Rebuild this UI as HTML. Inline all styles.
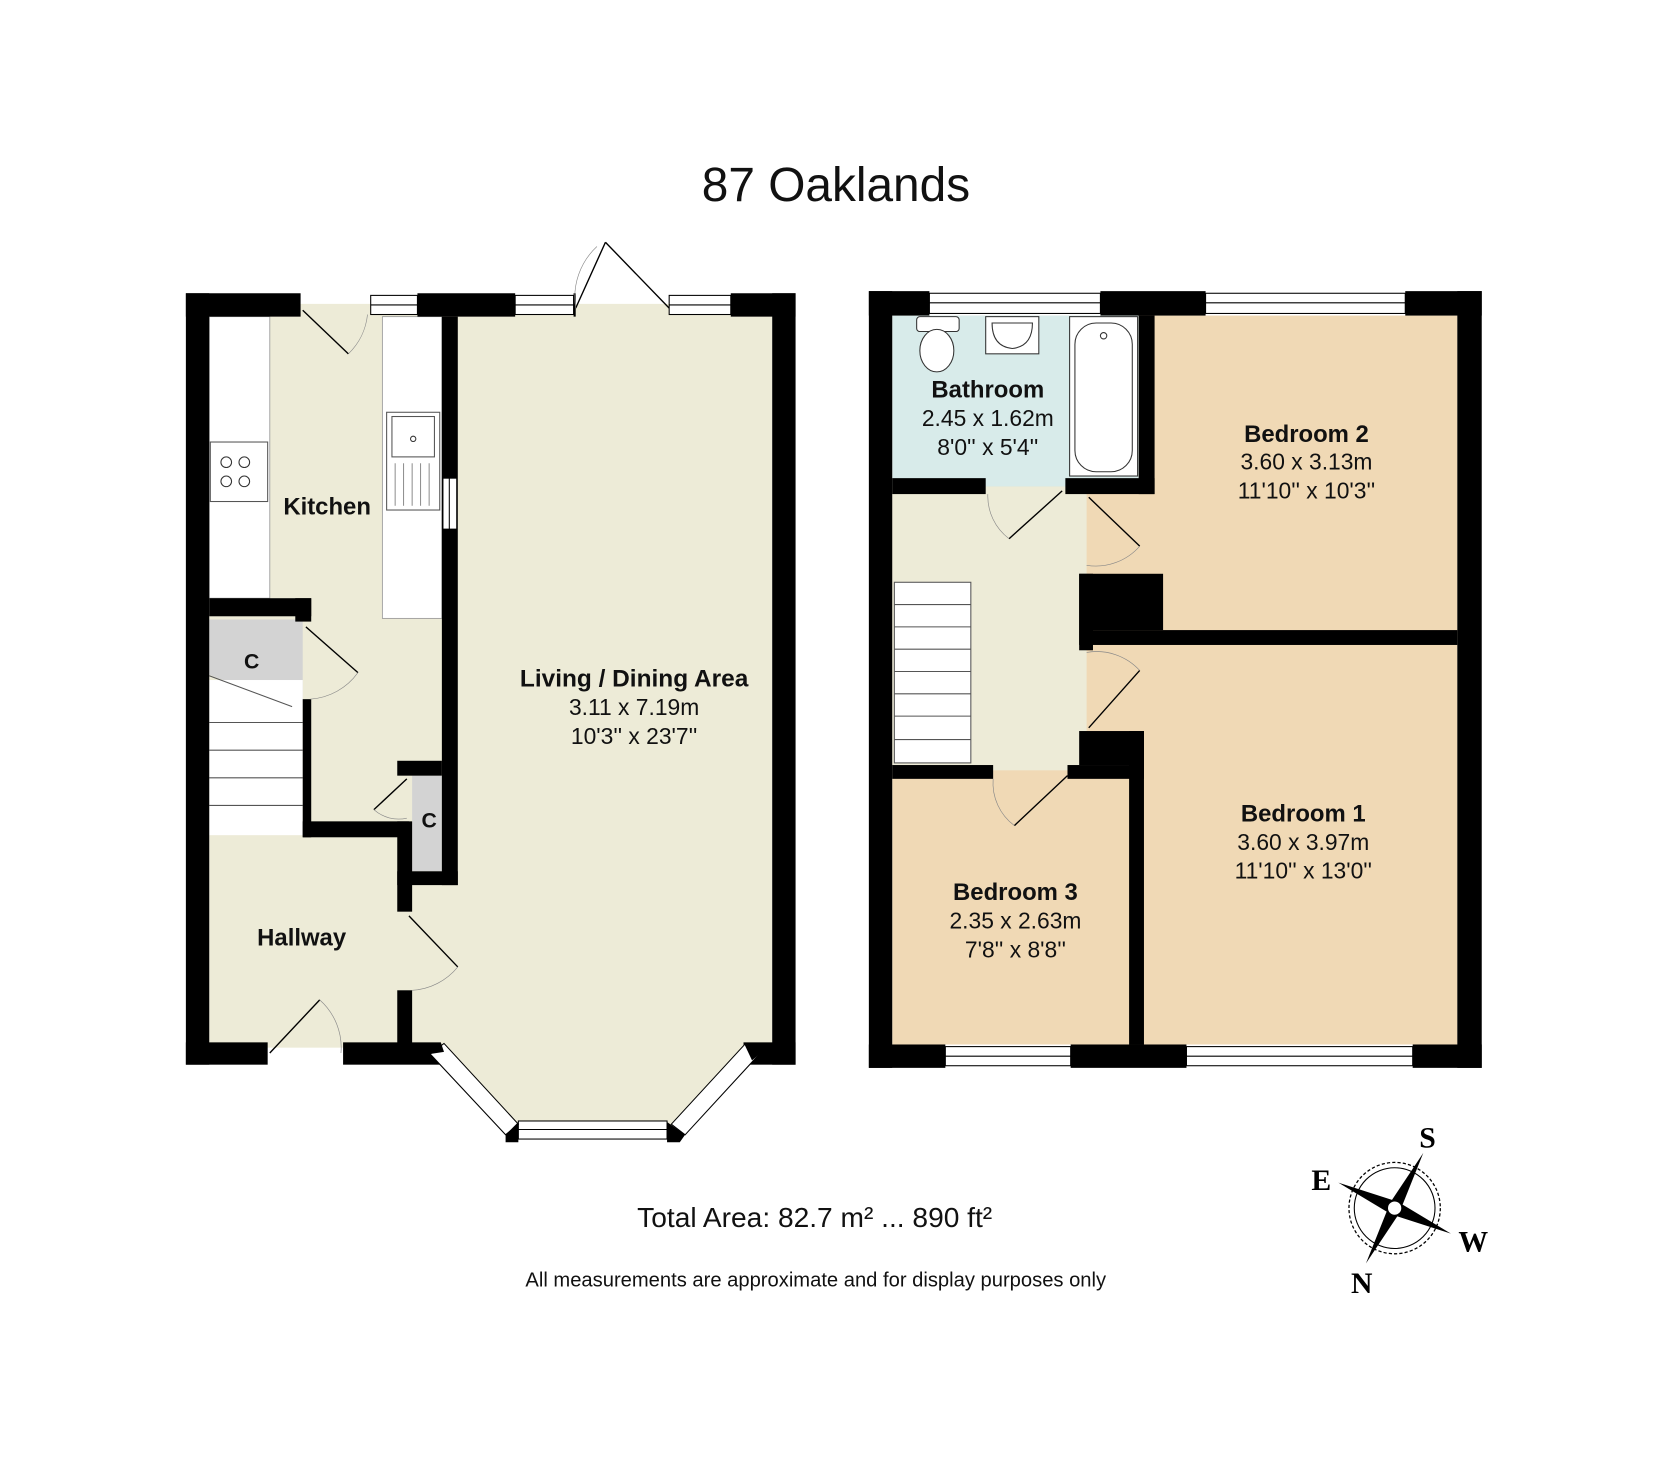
<!DOCTYPE html>
<html><head><meta charset="utf-8"><style>
html,body{margin:0;padding:0;background:#fff}
svg{display:block}
text{font-family:"Liberation Sans",sans-serif}
</style></head><body>
<svg width="1657" height="1478" viewBox="0 0 1560 1391" preserveAspectRatio="none" xmlns="http://www.w3.org/2000/svg">
<rect width="1560" height="1391" fill="#fff"/>
<text x="787" y="189" font-size="45" text-anchor="middle" fill="#111">87 Oaklands</text>

<!-- LEFT PLAN fills -->
<rect x="197" y="286" width="530" height="700" fill="#edebd7"/>
<polygon points="415,985 485,1062 640,1062 710,985" fill="#edebd7"/>
<rect x="197" y="298" width="57" height="265" fill="#fff" stroke="#999" stroke-width="0.8"/>
<rect x="198" y="416" width="54" height="56" fill="#fff" stroke="#555" stroke-width="1"/>
<circle cx="213" cy="435" r="5" fill="none" stroke="#333"/><circle cx="230" cy="435" r="5" fill="none" stroke="#333"/>
<circle cx="213" cy="453" r="5" fill="none" stroke="#333"/><circle cx="230" cy="453" r="5" fill="none" stroke="#333"/>
<rect x="360" y="298" width="56" height="284" fill="#fff" stroke="#999" stroke-width="0.8"/>
<rect x="364" y="388" width="50" height="92" fill="#fff" stroke="#555"/>
<rect x="369" y="392" width="40" height="38" fill="none" stroke="#555"/>
<circle cx="389" cy="413" r="2.5" fill="none" stroke="#333"/>
<g stroke="#777" stroke-width="0.8"><line x1="372" y1="436" x2="372" y2="476"/><line x1="380" y1="436" x2="380" y2="476"/><line x1="388" y1="436" x2="388" y2="476"/><line x1="396" y1="436" x2="396" y2="476"/><line x1="404" y1="436" x2="404" y2="476"/></g>
<polygon points="197,583 285,583 285,660 275,665 197,635" fill="#d3d3d3"/>
<rect x="197" y="640" width="88" height="146" fill="#fff"/>
<g stroke="#555" stroke-width="1"><line x1="197" y1="636" x2="275" y2="665"/><line x1="197" y1="680" x2="285" y2="680"/><line x1="197" y1="706" x2="285" y2="706"/><line x1="197" y1="732" x2="285" y2="732"/><line x1="197" y1="758" x2="285" y2="758"/></g>
<rect x="388" y="730" width="28" height="90" fill="#d3d3d3"/>
<g fill="#000">
<rect x="175" y="276" width="108" height="22"/>
<rect x="393" y="276" width="92" height="22"/>
<rect x="540" y="276" width="2" height="22"/>
<rect x="688" y="276" width="61" height="22"/>
<rect x="175" y="276" width="22" height="726"/>
<rect x="727" y="276" width="22" height="726"/>
<rect x="175" y="981" width="77" height="21"/>
<rect x="323" y="981" width="92" height="21"/>
<rect x="700" y="981" width="49" height="21"/>
<rect x="416" y="298" width="15" height="535"/>
<rect x="197" y="563" width="96" height="17"/>
<rect x="278" y="563" width="15" height="22"/>
<rect x="285" y="658" width="8" height="130"/>
<rect x="285" y="773" width="100" height="15"/>
<rect x="374" y="773" width="14" height="85"/>
<rect x="374" y="932" width="14" height="52"/>
<rect x="374" y="716" width="42" height="14"/>
<rect x="374" y="820" width="57" height="13"/>
</g>
<g fill="#fff" stroke="#000" stroke-width="1">
<rect x="349" y="278" width="44" height="18"/><rect x="485" y="278" width="55" height="18"/><rect x="630" y="278" width="58" height="18"/>
<rect x="417" y="450" width="13" height="48"/>
<rect x="488" y="1055" width="140" height="17"/>
</g>
<g stroke="#000" stroke-width="1"><line x1="349" y1="287" x2="393" y2="287"/><line x1="485" y1="287" x2="540" y2="287"/><line x1="630" y1="287" x2="688" y2="287"/><line x1="423" y1="450" x2="423" y2="498"/><line x1="488" y1="1063" x2="628" y2="1063"/></g>
<polygon points="405,992 418,982 488,1058 476,1068" fill="#fff" stroke="#000"/>
<polygon points="632,1058 702,982 715,992 645,1068" fill="#fff" stroke="#000"/>
<polygon points="476,1068 488,1056 488,1075 476,1075" fill="#000"/>
<polygon points="628,1056 645,1068 640,1075 628,1075" fill="#000"/>
<polygon points="405,992 415,981 418,990" fill="#000"/>
<polygon points="700,981 715,992 708,998" fill="#000"/>
<g stroke="#000" stroke-width="1.3" fill="none">
<line x1="285" y1="292" x2="328" y2="333"/><path d="M328,333 A60,60 0 0 0 346,296" stroke-width="0.6" stroke="#888"/>
<line x1="542" y1="290" x2="570" y2="228"/><line x1="630" y1="290" x2="570" y2="228"/>
<path d="M542,290 A65,65 0 0 1 562,232" stroke-width="0.6" stroke="#888"/>
<line x1="288" y1="590" x2="337" y2="633"/><path d="M337,633 A60,60 0 0 1 292,658" stroke-width="0.6" stroke="#888"/>
<line x1="352" y1="762" x2="383" y2="733"/><path d="M352,762 A35,35 0 0 0 383,770" stroke-width="0.6" stroke="#888"/>
<line x1="385" y1="862" x2="431" y2="910"/><path d="M431,910 A60,60 0 0 1 388,932" stroke-width="0.6" stroke="#888"/>
<line x1="254" y1="991" x2="301" y2="941"/><path d="M301,941 A60,60 0 0 1 321,991" stroke-width="0.6" stroke="#888"/>
</g>
<g text-anchor="middle" fill="#111">
<text x="308" y="484" font-size="22.5" font-weight="bold">Kitchen</text>
<text x="237" y="629" font-size="20" font-weight="bold">C</text>
<text x="404" y="779" font-size="20" font-weight="bold">C</text>
<text x="284" y="890" font-size="22.5" font-weight="bold">Hallway</text>
<text x="597" y="646" font-size="23" font-weight="bold">Living / Dining Area</text>
<text x="597" y="673" font-size="21.5">3.11 x 7.19m</text>
<text x="597" y="700" font-size="21.5">10'3'' x 23'7''</text>
</g>

<!-- RIGHT PLAN -->
<rect x="840" y="297" width="532" height="686" fill="#f0d9b5"/>
<rect x="840" y="297" width="232" height="161" fill="#d8ebea"/>
<rect x="840" y="458" width="183" height="267" fill="#edebd7"/>
<rect x="842" y="548" width="72" height="170" fill="#fff" stroke="#555"/>
<g stroke="#555" stroke-width="1"><line x1="842" y1="569" x2="914" y2="569"/><line x1="842" y1="590" x2="914" y2="590"/><line x1="842" y1="611" x2="914" y2="611"/><line x1="842" y1="632" x2="914" y2="632"/><line x1="842" y1="653" x2="914" y2="653"/><line x1="842" y1="674" x2="914" y2="674"/><line x1="842" y1="696" x2="914" y2="696"/></g>
<rect x="863" y="298" width="40" height="14" rx="3" fill="#fff" stroke="#333"/>
<ellipse cx="882" cy="330" rx="16" ry="20" fill="#fff" stroke="#333"/>
<rect x="928" y="298" width="50" height="35" fill="#fff" stroke="#333"/>
<path d="M934,304 L972,304 Q972,326 953,328 Q934,326 934,304Z" fill="#fff" stroke="#333"/>
<rect x="1007" y="298" width="64" height="150" fill="#fff" stroke="#333"/>
<rect x="1012" y="304" width="54" height="140" rx="20" fill="#fff" stroke="#333"/>
<circle cx="1039" cy="316" r="3" fill="none" stroke="#333"/>
<g fill="#000">
<rect x="818" y="274" width="57" height="23"/>
<rect x="1036" y="274" width="99" height="23"/>
<rect x="1323" y="274" width="72" height="23"/>
<rect x="818" y="274" width="22" height="731"/>
<rect x="1372" y="274" width="23" height="731"/>
<rect x="818" y="983" width="72" height="22"/>
<rect x="1008" y="983" width="109" height="22"/>
<rect x="1330" y="983" width="65" height="22"/>
<rect x="1072" y="297" width="15" height="168"/>
<rect x="840" y="450" width="88" height="15"/>
<rect x="1003" y="450" width="84" height="15"/>
<rect x="1016" y="540" width="79" height="53"/>
<rect x="1016" y="593" width="356" height="14"/>
<rect x="1016" y="540" width="13" height="72"/>
<rect x="1016" y="688" width="61" height="32"/>
<rect x="1063" y="688" width="14" height="295"/>
<rect x="840" y="720" width="95" height="13"/>
<rect x="1005" y="720" width="72" height="13"/>
</g>
<g fill="#fff" stroke="#000" stroke-width="1">
<rect x="875" y="276" width="161" height="19"/><rect x="1135" y="276" width="188" height="19"/>
<rect x="890" y="985" width="118" height="18"/><rect x="1117" y="985" width="213" height="18"/>
</g>
<g stroke="#000" stroke-width="1"><line x1="875" y1="285" x2="1036" y2="285"/><line x1="1135" y1="285" x2="1323" y2="285"/><line x1="890" y1="994" x2="1008" y2="994"/><line x1="1117" y1="994" x2="1330" y2="994"/></g>
<g stroke="#000" stroke-width="1.3" fill="none">
<line x1="950" y1="507" x2="1000" y2="462"/><path d="M930,465 A50,50 0 0 0 950,507" stroke-width="0.6" stroke="#888"/>
<line x1="1025" y1="468" x2="1073" y2="514"/><path d="M1073,514 A55,55 0 0 1 1023,532" stroke-width="0.6" stroke="#888"/>
<line x1="1025" y1="685" x2="1073" y2="631"/><path d="M1023,614 A55,55 0 0 1 1073,631" stroke-width="0.6" stroke="#888"/>
<line x1="955" y1="777" x2="1005" y2="730"/><path d="M935,733 A50,50 0 0 0 955,777" stroke-width="0.6" stroke="#888"/>
</g>
<g text-anchor="middle" fill="#111">
<text x="930" y="374" font-size="22.5" font-weight="bold">Bathroom</text>
<text x="930" y="401" font-size="21.5">2.45 x 1.62m</text>
<text x="930" y="428" font-size="21.5">8'0'' x 5'4''</text>
<text x="1230" y="416" font-size="22.5" font-weight="bold">Bedroom 2</text>
<text x="1230" y="442" font-size="21.5">3.60 x 3.13m</text>
<text x="1230" y="469" font-size="21.5">11'10'' x 10'3''</text>
<text x="1227" y="773" font-size="22.5" font-weight="bold">Bedroom 1</text>
<text x="1227" y="800" font-size="21.5">3.60 x 3.97m</text>
<text x="1227" y="827" font-size="21.5">11'10'' x 13'0''</text>
<text x="956" y="847" font-size="22.5" font-weight="bold">Bedroom 3</text>
<text x="956" y="874" font-size="21.5">2.35 x 2.63m</text>
<text x="956" y="901" font-size="21.5">7'8'' x 8'8''</text>
<text x="767" y="1155" font-size="26.5">Total Area: 82.7 m² ... 890 ft²</text>
<text x="768" y="1211" font-size="19">All measurements are approximate and for display purposes only</text>
</g>
<g>
<circle cx="1313" cy="1137" r="43" fill="none" stroke="#000" stroke-width="1.2" stroke-dasharray="3,2"/>
<circle cx="1313" cy="1137" r="38" fill="none" stroke="#000" stroke-width="1"/>
<polygon points="1340,1085 1318,1140 1308,1133" fill="#000"/>
<polygon points="1286,1189 1308,1134 1318,1141" fill="#000"/>
<polygon points="1260,1113 1316,1131 1310,1143" fill="#000"/>
<polygon points="1366,1161 1310,1143 1316,1131" fill="#000"/>
<circle cx="1313" cy="1137" r="7" fill="#fff" stroke="#000" stroke-width="1.5"/>
<g style="font-family:'Liberation Serif',serif;font-weight:bold" font-size="28" fill="#000" text-anchor="middle">
<text x="1344" y="1080" style="font-family:'Liberation Serif',serif">S</text><text x="1244" y="1120" style="font-family:'Liberation Serif',serif">E</text><text x="1387" y="1178" style="font-family:'Liberation Serif',serif">W</text><text x="1282" y="1217" style="font-family:'Liberation Serif',serif">N</text>
</g>
</g>
</svg>
</body></html>
